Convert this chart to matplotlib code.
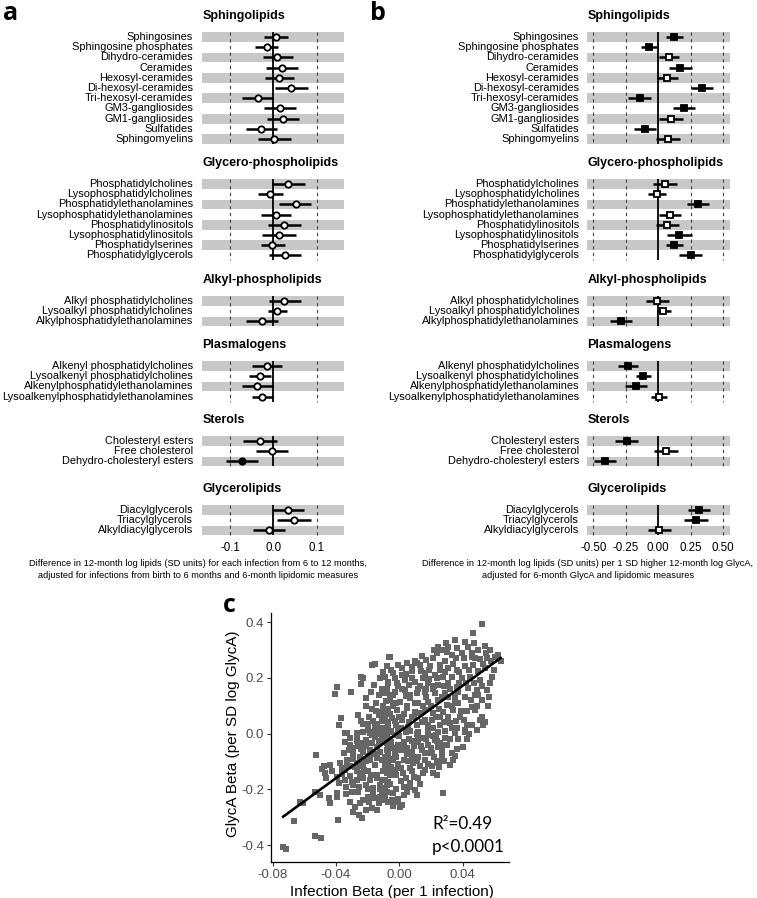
import numpy as np
import matplotlib
matplotlib.use('Agg')
import matplotlib.pyplot as plt
from matplotlib.transforms import blended_transform_factory

plt.rcParams['font.family'] = ['Liberation Sans', 'DejaVu Sans']
plt.rcParams['axes.unicode_minus'] = False

# ---------------- data ----------------
groups = ['Sphingolipids', 'Glycero-phospholipids', 'Alkyl-phospholipids',
          'Plasmalogens', 'Sterols', 'Glycerolipids']
lipids = [
    ['Sphingosines', 'Sphingosine phosphates', 'Dihydro-ceramides', 'Ceramides',
     'Hexosyl-ceramides', 'Di-hexosyl-ceramides', 'Tri-hexosyl-ceramides',
     'GM3-gangliosides', 'GM1-gangliosides', 'Sulfatides', 'Sphingomyelins'],
    ['Phosphatidylcholines', 'Lysophosphatidylcholines', 'Phosphatidylethanolamines',
     'Lysophosphatidylethanolamines', 'Phosphatidylinositols', 'Lysophosphatidylinositols',
     'Phosphatidylserines', 'Phosphatidylglycerols'],
    ['Alkyl phosphatidylcholines', 'Lysoalkyl phosphatidylcholines',
     'Alkylphosphatidylethanolamines'],
    ['Alkenyl phosphatidylcholines', 'Lysoalkenyl phosphatidylcholines',
     'Alkenylphosphatidylethanolamines', 'Lysoalkenylphosphatidylethanolamines'],
    ['Cholesteryl esters', 'Free cholesterol', 'Dehydro-cholesteryl esters'],
    ['Diacylglycerols', 'Triacylglycerols', 'Alkyldiacylglycerols'],
]

# panel a: per infection
a_est = [0.006, -0.015, 0.009, 0.019, 0.014, 0.042, -0.035, 0.016, 0.023, -0.028, 0.002,
         0.035, -0.008, 0.052, 0.006, 0.025, 0.014, -0.002, 0.028,
         0.025, 0.008, -0.025,
         -0.015, -0.031, -0.037, -0.025,
         -0.031, -0.003, -0.072,
         0.035, 0.047, -0.009]
a_lo = [-0.021, -0.042, -0.023, -0.018, -0.019, 0.004, -0.072, -0.021, -0.014, -0.064, -0.036,
        -0.004, -0.035, 0.014, -0.029, -0.013, -0.025, -0.029, -0.009,
        -0.010, -0.013, -0.062,
        -0.050, -0.056, -0.073, -0.050,
        -0.069, -0.040, -0.110,
        0.000, 0.008, -0.046]
a_hi = [0.033, 0.010, 0.045, 0.056, 0.048, 0.081, 0.000, 0.052, 0.060, 0.008, 0.041,
        0.073, 0.022, 0.088, 0.042, 0.064, 0.052, 0.028, 0.065,
        0.064, 0.031, 0.012,
        0.019, -0.005, 0.000, 0.000,
        0.009, 0.035, -0.035,
        0.071, 0.086, 0.028]
a_sig = [0] * 28 + [1] + [0] * 3

# panel b: per SD GlycA
b_est = [0.120, -0.074, 0.079, 0.167, 0.069, 0.333, -0.141, 0.200, 0.097, -0.103, 0.072,
         0.051, -0.013, 0.303, 0.092, 0.069, 0.162, 0.120, 0.249,
         -0.008, 0.038, -0.285,
         -0.233, -0.115, -0.174, 0.003,
         -0.244, 0.059, -0.408,
         0.313, 0.287, 0.005]
b_lo = [0.059, -0.136, 0.008, 0.079, -0.008, 0.249, -0.231, 0.115, 0.008, -0.187, -0.018,
        -0.038, -0.077, 0.218, 0.008, -0.018, 0.069, 0.056, 0.159,
        -0.095, -0.013, -0.372,
        -0.313, -0.172, -0.256, -0.059,
        -0.333, -0.031, -0.492,
        0.231, 0.200, -0.082]
b_hi = [0.187, -0.013, 0.162, 0.256, 0.149, 0.423, -0.056, 0.282, 0.187, -0.018, 0.167,
        0.141, 0.056, 0.390, 0.174, 0.159, 0.256, 0.192, 0.333,
        0.079, 0.095, -0.200,
        -0.154, -0.056, -0.090, 0.064,
        -0.154, 0.149, -0.328,
        0.397, 0.379, 0.095]
b_sig = [1, 1, 0, 1, 0, 1, 1, 1, 0, 1, 0,
         0, 0, 1, 0, 0, 1, 1, 1,
         0, 0, 1,
         1, 1, 1, 0,
         1, 0, 1,
         1, 1, 0]

a_ticks = [-0.1, 0.0, 0.1]
a_ticklabels = ['-0.1', '0.0', '0.1']
b_ticks = [-0.5, -0.25, 0.0, 0.25, 0.5]
b_ticklabels = ['-0.50', '-0.25', '0.00', '0.25', '0.50']

a_caption = ['Difference in 12-month log lipids (SD units) for each infection from 6 to 12 months,',
             'adjusted for infections from birth to 6 months and 6-month lipidomic measures']
b_caption = ['Difference in 12-month log lipids (SD units) per 1 SD higher 12-month log GlycA,',
             'adjusted for 6-month GlycA and lipidomic measures']

# panel c: (infection beta, GlycA beta) per lipid species
lipid_betas = [
    (-0.0733, -0.406), (-0.0716, -0.414), (-0.0665, -0.312), (-0.0627, -0.244), (-0.0605, -0.250),
    (-0.0533, -0.367), (-0.0497, -0.376), (-0.0524, -0.077), (-0.0533, -0.208), (-0.0501, -0.220),
    (-0.0474, -0.118), (-0.0469, -0.140), (-0.0485, -0.128), (-0.0460, -0.160),
    (-0.0442, -0.232), (-0.0438, -0.250), (-0.0438, -0.112), (-0.0427, -0.136), (-0.0396, -0.212),
    (-0.0385, -0.310), (-0.0375, -0.106), (-0.0364, -0.125), (-0.0396, -0.226), (-0.0337, -0.218),
    (-0.0301, -0.208), (-0.0311, -0.118), (-0.0343, -0.130), (-0.0396, -0.155), (-0.0343, -0.166),
    (-0.0311, -0.154), (-0.0337, -0.190), (-0.0380, -0.178), (-0.0311, -0.244), (-0.0280, -0.262),
    (-0.0249, -0.250), (-0.0295, -0.280), (-0.0253, -0.292), (-0.0207, -0.274), (-0.0238, -0.304),
    (-0.0175, -0.268), (-0.0143, -0.274), (-0.0101, -0.238), (-0.0070, -0.244), (-0.0122, -0.226),
    (-0.0270, -0.106), (-0.0249, -0.118), (-0.0228, -0.112), (-0.0207, -0.100), (-0.0186, -0.094),
    (-0.0154, -0.112), (-0.0143, -0.088), (-0.0091, -0.112), (-0.0270, -0.136), (-0.0238, -0.142),
    (-0.0196, -0.136), (-0.0143, -0.148), (-0.0101, -0.136), (-0.0080, -0.142), (-0.0270, -0.166),
    (-0.0228, -0.160), (-0.0186, -0.166), (-0.0143, -0.160), (-0.0112, -0.166), (-0.0070, -0.172),
    (-0.0291, -0.184), (-0.0253, -0.190), (-0.0207, -0.184), (-0.0164, -0.196), (-0.0122, -0.184),
    (-0.0091, -0.196), (-0.0080, -0.208), (-0.0122, -0.200), (-0.0164, -0.214), (-0.0200, -0.226),
    (-0.0230, -0.238), (-0.0330, -0.095),
    (-0.0343, -0.029), (-0.0311, -0.017), (-0.0265, -0.005), (-0.0333, 0.001), (-0.0291, -0.053),
    (-0.0238, -0.035), (-0.0207, -0.023), (-0.0186, 0.001), (-0.0154, -0.011), (-0.0112, -0.005),
    (-0.0080, -0.035), (-0.0143, -0.047), (-0.0186, -0.059), (-0.0228, -0.065), (-0.0122, -0.065),
    (-0.0091, -0.083), (-0.0070, -0.053), (-0.0249, -0.083), (-0.0290, -0.090), (-0.0350, -0.070),
    (-0.0310, -0.040), (-0.0260, -0.045), (-0.0170, -0.035), (-0.0130, -0.025), (-0.0100, -0.015),
    (-0.0060, -0.020), (-0.0200, -0.080), (-0.0160, -0.075), (-0.0110, -0.095), (-0.0060, -0.090),
    (-0.0175, 0.246), (-0.0154, 0.250), (-0.0080, 0.241), (-0.0065, 0.274), (-0.0244, 0.205),
    (-0.0228, 0.199), (-0.0242, 0.178), (-0.0396, 0.167), (-0.0406, 0.143), (-0.0306, 0.150),
    (-0.0207, 0.128), (-0.0084, 0.117), (-0.0070, 0.183), (-0.0369, 0.055), (-0.0379, 0.031),
    (-0.0263, 0.066), (-0.0147, 0.081), (-0.0116, 0.079), (-0.0228, 0.035), (-0.0200, 0.034),
    (-0.0343, 0.001), (-0.0265, 0.001), (-0.0164, 0.047), (-0.0143, 0.035), (-0.0112, 0.047),
    (-0.0091, 0.059), (-0.0070, 0.041), (-0.0133, 0.019), (-0.0101, 0.019), (-0.0070, 0.025),
    (-0.0186, 0.007), (-0.0154, 0.001), (-0.0122, -0.002), (-0.0091, 0.001), (-0.0064, 0.007),
    (-0.0154, 0.025), (-0.0196, 0.013), (-0.0228, 0.007), (-0.0070, 0.090), (-0.0080, 0.078),
    (-0.0100, 0.100), (-0.0060, 0.130), (-0.0075, 0.150),
    (0.0278, -0.212), (0.0363, -0.056), (0.0404, -0.047), (0.0341, -0.094), (0.0320, -0.112),
    (0.0284, -0.041), (0.0289, -0.017), (0.0352, 0.001), (0.0415, 0.013), (0.0004, -0.262),
    (-0.0006, -0.244), (-0.0048, -0.238), (-0.0069, -0.244), (0.0110, -0.220), (0.0099, -0.202),
    (0.0068, -0.178), (0.0047, -0.208), (0.0120, -0.160), (0.0162, -0.130), (0.0205, -0.118),
    (0.0236, -0.106), (0.0257, -0.100), (0.0057, -0.100), (0.0068, -0.124), (0.0078, -0.136),
    (0.0025, -0.142), (-0.0027, -0.130), (-0.0059, -0.148), (-0.0090, -0.166), (0.0183, -0.005),
    (0.0226, -0.023), (0.0247, -0.047), (0.0205, -0.071), (0.0141, -0.059), (0.0120, -0.083),
    (0.0162, -0.094), (0.0089, -0.106), (0.0000, -0.010), (0.0030, -0.030), (0.0060, -0.020),
    (0.0090, -0.045), (0.0120, -0.030), (0.0150, -0.015), (0.0180, -0.040), (0.0210, -0.010),
    (0.0240, -0.025), (0.0270, -0.060), (0.0020, -0.060), (0.0050, -0.075), (-0.0020, -0.085),
    (-0.0040, -0.050), (0.0080, -0.065), (0.0110, 0.000), (-0.0010, -0.110), (0.0030, -0.095),
    (0.0160, -0.070), (0.0200, -0.050), (0.0300, -0.040), (0.0330, -0.070), (0.0270, -0.080),
    (0.0180, -0.110), (0.0130, -0.115), (-0.0050, -0.030), (-0.0030, -0.005), (0.0040, 0.005),
    (0.0250, -0.120),
    (-0.0080, -0.060), (-0.0050, -0.120), (-0.0070, -0.100), (-0.0030, -0.070), (-0.0010, -0.040),
    (-0.0090, -0.030), (-0.0060, -0.180), (-0.0020, -0.200), (0.0010, -0.170), (0.0030, -0.220),
    (-0.0040, -0.260),
    (-0.0059, 0.276), (0.0141, 0.279), (-0.0006, 0.247), (0.0047, 0.252), (0.0099, 0.259),
    (0.0131, 0.247), (0.0194, 0.241), (0.0257, 0.247), (0.0310, 0.235), (-0.0037, 0.217),
    (0.0015, 0.211), (0.0078, 0.223), (0.0162, 0.217), (0.0226, 0.211), (0.0278, 0.205),
    (-0.0069, 0.187), (-0.0016, 0.181), (0.0036, 0.193), (0.0099, 0.187), (0.0183, 0.181),
    (0.0247, 0.175), (-0.0090, 0.145), (-0.0027, 0.151), (0.0036, 0.157), (0.0110, 0.145),
    (0.0162, 0.151), (0.0226, 0.145), (0.0289, 0.145), (-0.0059, 0.121), (0.0004, 0.115),
    (0.0068, 0.127), (0.0120, 0.109), (0.0183, 0.115), (0.0247, 0.121), (0.0299, 0.103),
    (-0.0080, 0.085), (-0.0016, 0.085), (0.0047, 0.091), (0.0099, 0.079), (0.0162, 0.085),
    (0.0215, 0.073), (0.0278, 0.079), (-0.0048, 0.055), (0.0015, 0.049), (0.0078, 0.061),
    (0.0141, 0.043), (0.0205, 0.049), (0.0257, 0.031), (0.0320, 0.037), (-0.0069, 0.019),
    (-0.0006, 0.013), (0.0057, 0.025), (0.0120, 0.007), (0.0183, 0.013), (0.0247, 0.007),
    (0.0020, 0.235), (0.0080, 0.200), (0.0130, 0.170), (0.0040, 0.135), (0.0200, 0.100),
    (0.0260, 0.060), (0.0060, 0.040), (-0.0040, 0.100), (0.0150, 0.200), (0.0210, 0.160),
    (-0.0080, 0.160), (0.0000, 0.060), (0.0100, 0.110), (0.0280, 0.170), (-0.0020, 0.030),
    (0.0520, 0.394), (0.0468, 0.360), (0.0295, 0.327), (0.0352, 0.336), (0.0415, 0.330),
    (0.0474, 0.324), (0.0247, 0.312), (0.0363, 0.306), (0.0436, 0.310), (0.0541, 0.315),
    (0.0604, 0.276), (0.0626, 0.282), (0.0236, 0.288), (0.0299, 0.294), (0.0331, 0.282),
    (0.0394, 0.288), (0.0457, 0.276), (0.0510, 0.267), (0.0552, 0.270), (0.0363, 0.229),
    (0.0415, 0.241), (0.0468, 0.247), (0.0499, 0.223), (0.0541, 0.235), (0.0331, 0.205),
    (0.0394, 0.199), (0.0447, 0.205), (0.0510, 0.193), (0.0583, 0.205), (0.0310, 0.181),
    (0.0363, 0.169), (0.0436, 0.163), (0.0489, 0.157), (0.0552, 0.157), (0.0352, 0.139),
    (0.0415, 0.133), (0.0478, 0.139), (0.0520, 0.121), (0.0373, 0.109), (0.0457, 0.097),
    (0.0478, 0.085), (0.0341, 0.085), (0.0384, 0.061), (0.0426, 0.031), (0.0510, 0.049),
    (0.0531, 0.031), (0.0363, 0.019), (0.0415, 0.007), (0.0489, 0.013),
    (0.0640, 0.262), (0.0600, 0.230), (0.0575, 0.180), (0.0565, 0.130), (0.0560, 0.100),
    (0.0520, 0.060), (0.0540, 0.040),
    # dense core
    (-0.029, -0.070), (-0.027, -0.025), (-0.024, -0.055), (-0.021, -0.045), (-0.028, -0.120),
    (-0.025, -0.150), (-0.022, -0.130), (-0.020, -0.200), (-0.018, -0.150), (-0.026, -0.210),
    (-0.032, -0.060), (-0.033, -0.110), (-0.036, -0.145), (-0.030, -0.175), (-0.023, -0.090),
    (-0.019, -0.245), (-0.016, -0.230), (-0.013, -0.250), (-0.011, -0.210), (-0.009, -0.225),
    (-0.019, 0.060), (-0.017, 0.090), (-0.015, 0.110), (-0.013, 0.140), (-0.011, 0.160),
    (-0.018, 0.150), (-0.021, 0.100), (-0.024, 0.045), (-0.012, 0.200), (-0.016, 0.175),
    (-0.010, 0.220), (-0.013, 0.065), (-0.017, -0.005), (-0.020, 0.020),
    (-0.008, -0.010), (-0.005, 0.010), (-0.003, 0.045), (-0.006, 0.070), (-0.002, 0.110),
    (-0.004, 0.140), (-0.001, 0.170), (-0.003, 0.200), (-0.005, 0.230), (-0.009, 0.205),
    (-0.002, -0.150), (-0.006, -0.140), (-0.009, -0.120), (-0.004, -0.095), (-0.007, -0.075),
    (-0.001, -0.060), (-0.008, -0.185), (-0.004, -0.215), (-0.001, -0.235), (0.002, -0.255),
    (0.001, 0.020), (0.003, 0.070), (0.005, 0.100), (0.007, 0.140), (0.002, 0.160),
    (0.006, 0.175), (0.008, 0.240), (0.004, 0.215), (0.009, 0.060), (0.007, 0.010),
    (0.002, -0.040), (0.005, -0.050), (0.008, -0.085), (0.001, -0.125), (0.004, -0.160),
    (0.007, -0.190), (0.009, -0.155), (0.003, -0.190), (0.008, -0.025),
    (0.011, 0.030), (0.013, 0.075), (0.015, 0.100), (0.017, 0.130), (0.012, 0.160),
    (0.014, 0.225), (0.017, 0.265), (0.019, 0.195), (0.016, 0.050), (0.018, 0.030),
    (0.012, -0.015), (0.014, -0.045), (0.017, -0.020), (0.019, -0.070), (0.011, -0.100),
    (0.015, -0.140), (0.013, -0.180), (0.017, 0.160), (0.019, 0.230), (0.011, 0.255),
    (0.021, 0.020), (0.023, 0.060), (0.025, 0.090), (0.027, 0.130), (0.022, 0.170),
    (0.024, 0.200), (0.026, 0.230), (0.029, 0.260), (0.021, 0.270), (0.028, 0.040),
    (0.029, 0.010), (0.023, -0.005), (0.026, -0.035), (0.022, -0.085), (0.028, -0.100),
    (0.024, -0.150), (0.021, -0.140), (0.029, 0.220), (0.027, 0.300), (0.022, 0.300),
    (0.031, 0.060), (0.033, 0.100), (0.035, 0.120), (0.037, 0.150), (0.032, 0.160),
    (0.034, 0.250), (0.036, 0.270), (0.038, 0.220), (0.031, 0.310), (0.033, 0.020),
    (0.036, 0.045), (0.039, 0.080), (0.038, 0.180), (0.031, 0.130), (0.032, -0.020),
    (0.037, -0.020), (0.035, -0.080),
    (0.041, 0.050), (0.043, 0.080), (0.045, 0.120), (0.042, 0.180), (0.044, 0.230),
    (0.046, 0.290), (0.048, 0.270), (0.041, 0.270), (0.047, 0.180), (0.049, 0.100),
    (0.050, 0.140), (0.052, 0.170), (0.053, 0.250), (0.050, 0.300), (0.044, 0.000),
    (0.046, 0.030), (0.043, -0.020), (0.055, 0.290), (0.057, 0.300), (0.058, 0.260),
]
infection_beta = [p[0] for p in lipid_betas]
glyca_beta = [p[1] for p in lipid_betas]
fit_slope = 4.15
fit_intercept = 0.006
c_xticks = [-0.08, -0.04, 0.00, 0.04]
c_xticklabels = ['-0.08', '-0.04', '0.00', '0.04']
c_yticks = [-0.4, -0.2, 0.0, 0.2, 0.4]
c_yticklabels = ['-0.4', '-0.2', '0.0', '0.2', '0.4']

# ---------------- layout ----------------
W, H = 757, 898
fig = plt.figure(figsize=(W / 100, H / 100), dpi=100)

group_start = [37, 184, 301, 366, 441, 510]   # pixel rows
row_step = 10.2
band_h = 9.8


def fx(px):
    return px / W


def fy(py):
    return 1 - py / H


def forest(left_px, right_px, xlim, est, lo, hi, sig, marker, dashes, ticks, ticklabels, label_x):
    ax = fig.add_axes([fx(left_px), fy(540), (right_px - left_px) / W, 530 / H])
    ax.set_xlim(*xlim)
    ax.set_ylim(540, 10)
    for s in ax.spines.values():
        s.set_visible(False)
    ax.set_yticks([])
    ax.set_xticks(ticks, ticklabels)
    ax.tick_params(axis='x', length=0, pad=1.5, labelsize=8.3)
    trans = blended_transform_factory(ax.transAxes, ax.transData)
    k = 0
    for g, (name, items) in enumerate(zip(groups, lipids)):
        ys = [group_start[g] + i * row_step for i in range(len(items))]
        for i, y in enumerate(ys):
            if i % 2 == 0:
                ax.axhspan(y - band_h / 2, y + band_h / 2, color='#c8c8c8', lw=0, zorder=0)
        top, bot = ys[0] - band_h / 2, ys[-1] + band_h / 2
        for d in dashes:
            ax.vlines(d, top, bot, colors='#444444', linestyles=(0, (3, 3)), lw=0.8, zorder=1)
        ax.vlines(0, top, bot, colors='black', lw=1.3, zorder=2)
        ax.text(0, ys[0] - 21, name, transform=trans, fontweight='bold', fontsize=9,
                ha='left', va='center')
        for item, y in zip(items, ys):
            ax.text(label_x, y, item, transform=trans, ha='right', va='center', fontsize=7.9)
            ax.plot([lo[k], hi[k]], [y, y], color='black', lw=1.8, solid_capstyle='butt', zorder=3)
            ax.plot(est[k], y, marker=marker, ms=4.6, mec='black', mew=1.3,
                    mfc='black' if sig[k] else 'white', zorder=4)
            k += 1
    return ax


forest(202.3, 344.3, (-0.164, 0.164), a_est, a_lo, a_hi, a_sig, 'o', [-0.1, 0.1],
       a_ticks, a_ticklabels, -0.0655)
forest(587.3, 730, (-0.546, 0.5515), b_est, b_lo, b_hi, b_sig, 's', [-0.5, -0.25, 0.25, 0.5],
       b_ticks, b_ticklabels, -0.058)

for i, line in enumerate(a_caption):
    fig.text(fx(198), fy(564 + 11 * i), line, ha='center', va='center', fontsize=6.7)
for i, line in enumerate(b_caption):
    fig.text(fx(588), fy(564 + 11 * i), line, ha='center', va='center', fontsize=6.7)

# panel letters
fig.text(fx(3), fy(14), 'a', fontsize=18, fontweight='bold', family='Open Sans', ha='left', va='center')
fig.text(fx(370), fy(14), 'b', fontsize=18, fontweight='bold', family='Open Sans', ha='left', va='center')
fig.text(fx(223), fy(605), 'c', fontsize=18, fontweight='bold', family='Open Sans', ha='left', va='center')

# panel c
axc = fig.add_axes([fx(271), fy(862), 238 / W, 249 / H])
axc.scatter(infection_beta, glyca_beta, marker='s', s=22, c='#666666', linewidths=0, zorder=2)
xx = np.array([min(infection_beta), max(infection_beta)])
axc.plot(xx, fit_slope * xx + fit_intercept, color='black', lw=1.9, zorder=3)
axc.set_xlim(-0.081, 0.0693)
axc.set_ylim(-0.461, 0.433)
axc.set_xticks(c_xticks, c_xticklabels)
axc.set_yticks(c_yticks, c_yticklabels)
axc.tick_params(length=3, width=0.8, labelsize=9.5, labelcolor='#4d4d4d', color='#333333', pad=2)
for s in ['top', 'right']:
    axc.spines[s].set_visible(False)
for s in ['left', 'bottom']:
    axc.spines[s].set_linewidth(0.9)
fig.text(fx(392), fy(892), 'Infection Beta (per 1 infection)', ha='center', va='center', fontsize=11)
fig.text(fx(233), fy(734), 'GlycA Beta (per SD log GlycA)', ha='center', va='center',
         fontsize=11, rotation=90)
axc.text(fx(432), fy(824), 'R\u00b2=0.49', transform=fig.transFigure, ha='left', va='center',
         fontsize=12.3, family=['Lato', 'DejaVu Sans'])
axc.text(fx(432), fy(847), 'p<0.0001', transform=fig.transFigure, ha='left', va='center',
         fontsize=12.3, family=['Lato', 'DejaVu Sans'])

fig.savefig('out.png', dpi=100)
